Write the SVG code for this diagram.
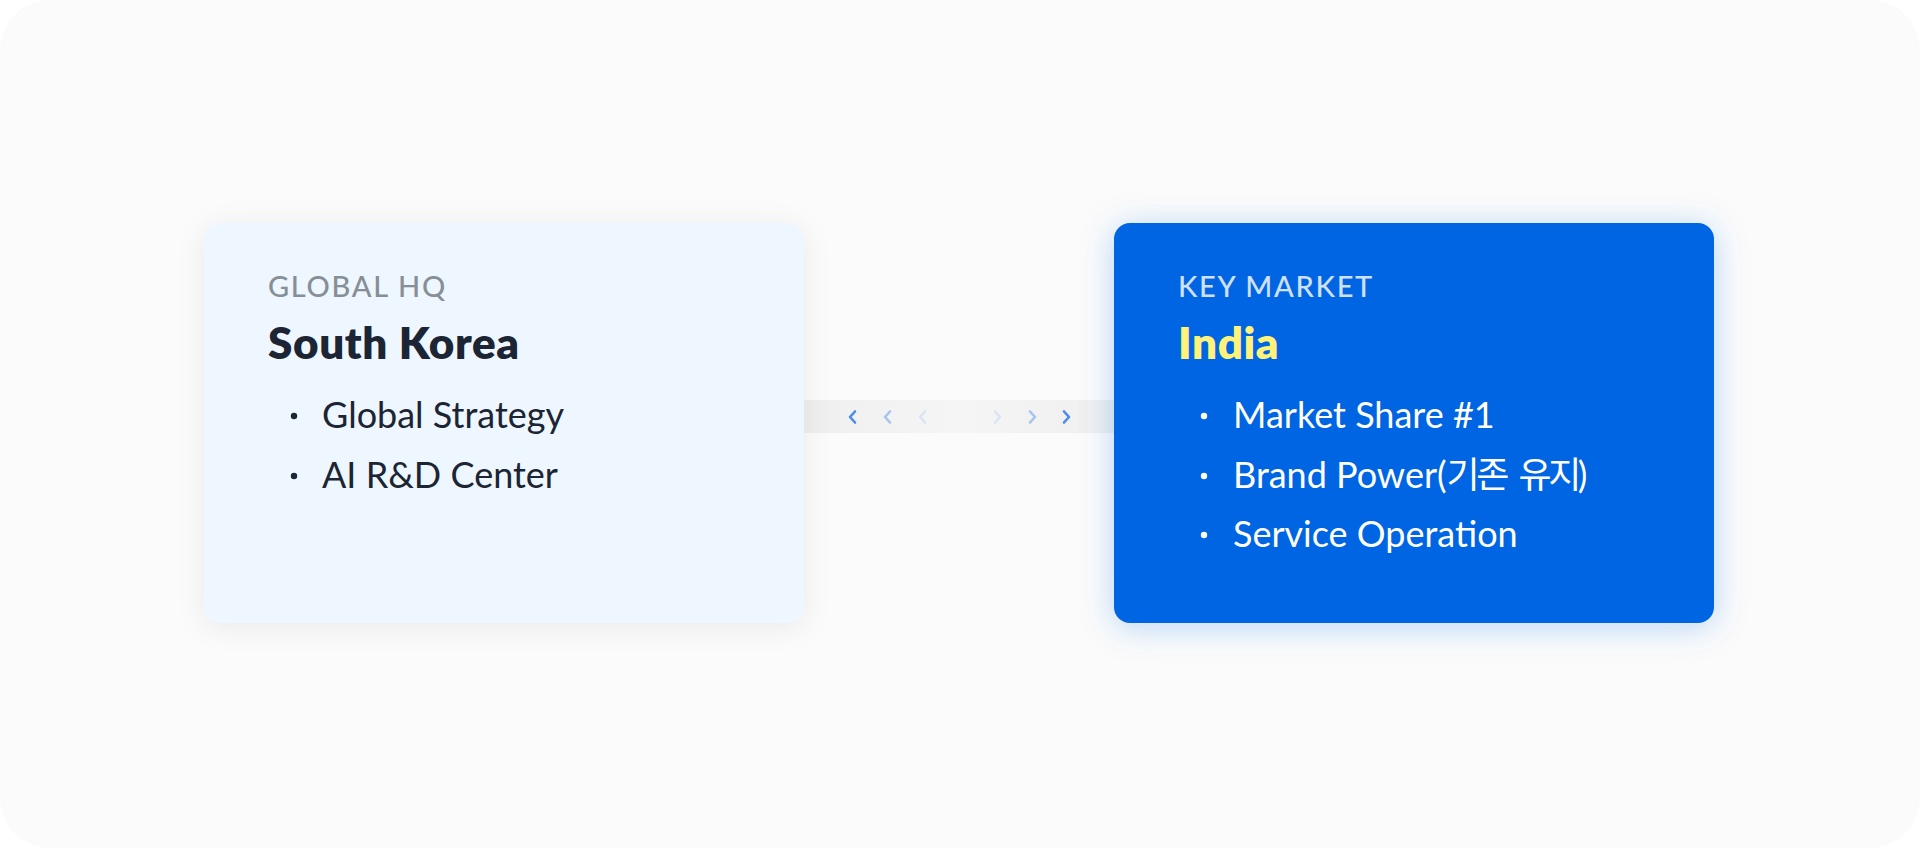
<svg xmlns="http://www.w3.org/2000/svg" width="1920" height="848" viewBox="0 0 1920 848">
  <style>
    text { font-family: "Lato", "Noto Sans CJK KR", sans-serif; }
    .label { font-size: 29px; letter-spacing: 1.7px; font-weight: 500; }
    .title { font-size: 44px; font-weight: 800; letter-spacing: 0.6px; }
    .item { font-size: 36px; }
    .ko { letter-spacing: -3.5px; word-spacing: 7px; }
    .dark { fill: #1b2533; }
    .chev { fill: none; stroke: #4a8aec; stroke-width: 2.6; stroke-linecap: round; stroke-linejoin: round; }
  </style>
  <defs>
    <filter id="shadowGray" x="-20%" y="-20%" width="140%" height="140%">
      <feDropShadow dx="0" dy="4" stdDeviation="14" flood-color="#000000" flood-opacity="0.07"/>
    </filter>
    <filter id="shadowBlue" x="-20%" y="-20%" width="140%" height="140%">
      <feDropShadow dx="0" dy="4" stdDeviation="16" flood-color="#1a6ee6" flood-opacity="0.28"/>
    </filter>
    <linearGradient id="band" x1="0" y1="0" x2="1" y2="0">
      <stop offset="0" stop-color="#efefef"/>
      <stop offset="0.5" stop-color="#f5f5f6"/>
      <stop offset="1" stop-color="#efefef"/>
    </linearGradient>
  </defs>

  <rect x="0" y="0" width="1920" height="848" fill="#ffffff"/>
  <rect x="0" y="0" width="1920" height="848" rx="50" fill="#fbfbfb"/>

  <g id="connectors">
    <rect x="804" y="400" width="310" height="33" fill="url(#band)"/>
    <path class="chev" d="M855 411.5 L850 417 L855 422.5"/>
    <path class="chev" d="M890 411.5 L885 417 L890 422.5" opacity="0.45"/>
    <path class="chev" d="M925 411.5 L920 417 L925 422.5" opacity="0.15"/>
    <path class="chev" d="M995 411.5 L1000 417 L995 422.5" opacity="0.15"/>
    <path class="chev" d="M1030 411.5 L1035 417 L1030 422.5" opacity="0.45"/>
    <path class="chev" d="M1064 411.5 L1069 417 L1064 422.5"/>
  </g>

  <g id="node-south-korea">
    <rect x="204" y="223" width="600" height="400" rx="16" fill="#eef6ff" filter="url(#shadowGray)"/>
    <text class="label" x="268" y="297" fill="#868e96">GLOBAL HQ</text>
    <text class="title dark" x="268" y="359">South Korea</text>
    <circle cx="294" cy="416" r="3.2" fill="#1b2533"/>
    <text class="item dark" x="322" y="428">Global Strategy</text>
    <circle cx="294" cy="476" r="3.2" fill="#1b2533"/>
    <text class="item dark" x="322" y="488">AI R&amp;D Center</text>
  </g>

  <g id="node-india">
    <rect x="1114" y="223" width="600" height="400" rx="16" fill="#0665e3" filter="url(#shadowBlue)"/>
    <text class="label" x="1178" y="297" fill="#cfe0fb">KEY MARKET</text>
    <text class="title" x="1178" y="359" fill="#fff27a">India</text>
    <circle cx="1204" cy="416" r="3.2" fill="#ffffff"/>
    <text class="item" x="1233" y="428" fill="#ffffff">Market Share #1</text>
    <circle cx="1204" cy="476" r="3.2" fill="#ffffff"/>
    <text class="item" x="1233" y="488" fill="#ffffff">Brand Power(<tspan class="ko">기존 유지</tspan>)</text>
    <circle cx="1204" cy="535" r="3.2" fill="#ffffff"/>
    <text class="item" x="1233" y="547" fill="#ffffff">Service Operation</text>
  </g>
</svg>
